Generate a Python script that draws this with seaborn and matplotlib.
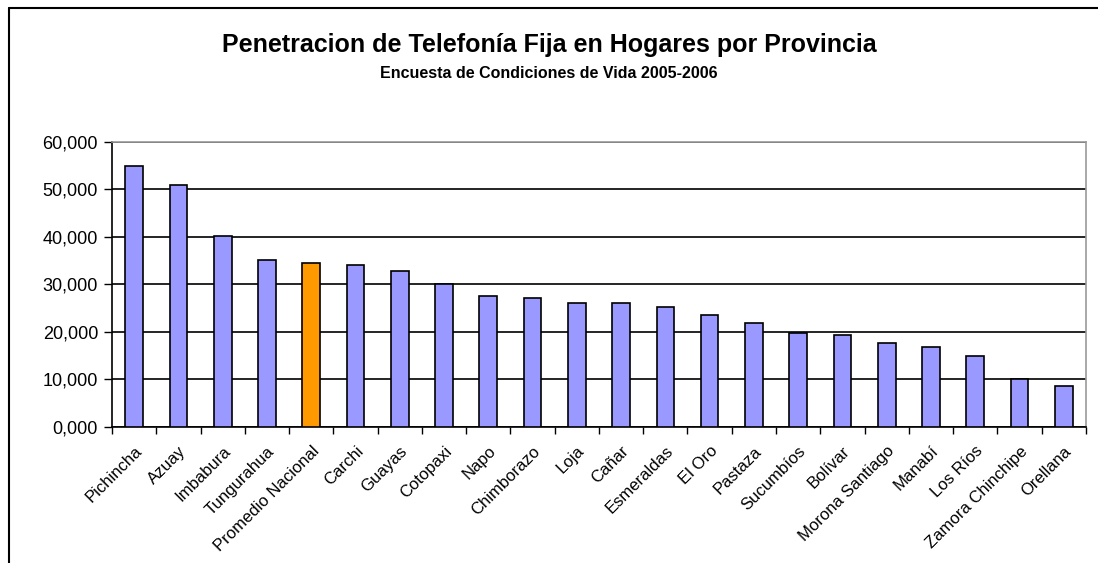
import pandas as pd
import seaborn as sns
import matplotlib.pyplot as plt
from matplotlib.lines import Line2D
from matplotlib.ticker import FuncFormatter, MultipleLocator

provincias = ["Pichincha", "Azuay", "Imbabura", "Tungurahua", "Promedio Nacional",
              "Carchi", "Guayas", "Cotopaxi", "Napo", "Chimborazo", "Loja",
              "Cañar", "Esmeraldas", "El Oro", "Pastaza", "Sucumbíos", "Bolívar",
              "Morona Santiago", "Manabí", "Los Ríos", "Zamora Chinchipe", "Orellana"]
penetracion = [55000, 51000, 40200, 35100, 34400, 34000, 32900, 30000, 27500, 27200,
               26100, 26000, 25300, 23600, 21800, 19700, 19300, 17600, 16900, 14800,
               10000, 8500]

sns.set_style("white")
plt.rcParams['font.family'] = ['Liberation Sans', 'DejaVu Sans']
plt.rcParams['text.color'] = 'black'
plt.rcParams['xtick.color'] = 'black'
plt.rcParams['ytick.color'] = 'black'

df = pd.DataFrame({"provincia": provincias, "valor": penetracion})
colores = {p: ("#FF9900" if p == "Promedio Nacional" else "#9999FF") for p in provincias}

fig = plt.figure(figsize=(10.98, 5.63), dpi=100)
ax = fig.add_axes([0.102, 0.242, 0.887, 0.506])

sns.barplot(data=df, x="provincia", y="valor", hue="provincia", palette=colores,
            legend=False, width=0.4, edgecolor="black", linewidth=1.2,
            saturation=1, ax=ax, zorder=3)

ax.set_ylim(0, 60000)
ax.set_xlim(-0.5, len(provincias) - 0.5)
ax.yaxis.set_major_locator(MultipleLocator(10000))
ax.yaxis.set_major_formatter(FuncFormatter(lambda v, p: f"{int(v / 1000)},000"))
ax.grid(axis="y", color="black", linewidth=1.2, zorder=0)
ax.set_axisbelow(True)
ax.set_xlabel("")
ax.set_ylabel("")

for s in ["left", "bottom"]:
    ax.spines[s].set_color("black")
    ax.spines[s].set_linewidth(1.2)
for s in ["top", "right"]:
    ax.spines[s].set_color("#999999")
    ax.spines[s].set_linewidth(1.2)

ax.tick_params(axis="y", labelsize=13, length=6, width=1, direction="out",
               left=True, pad=4)
ax.set_xticks(range(len(provincias)))
ax.set_xticklabels(provincias, rotation=45, ha="right", rotation_mode="anchor",
                   fontsize=12)
ax.tick_params(axis="x", which="major", length=0, pad=12)
ax.set_xticks([i - 0.5 for i in range(len(provincias) + 1)], minor=True)
ax.tick_params(axis="x", which="minor", length=5, width=1, direction="out",
               bottom=True)

fig.text(0.5, 0.92, "Penetracion de Telefonía Fija en Hogares por Provincia",
         ha="center", va="center", fontsize=18, fontweight="bold")
fig.text(0.5, 0.87, "Encuesta de Condiciones de Vida 2005-2006",
         ha="center", va="center", fontsize=11.5, fontweight="bold")

# marco del grafico (izquierda y arriba)
fig.add_artist(Line2D([0.008, 0.008], [0.0, 0.986], color="black", lw=1.5,
                      transform=fig.transFigure))
fig.add_artist(Line2D([0.008, 1.0], [0.986, 0.986], color="black", lw=1.5,
                      transform=fig.transFigure))

plt.savefig("out.png", dpi=100)
